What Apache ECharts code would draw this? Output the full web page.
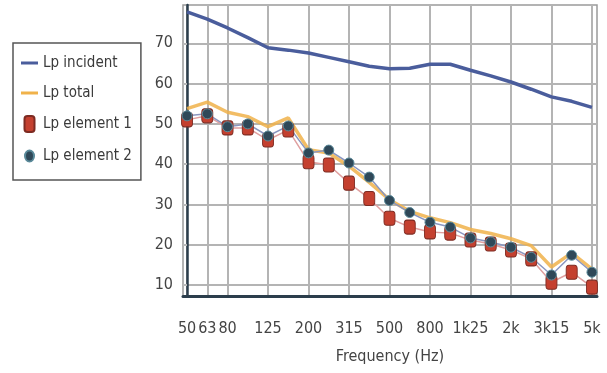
<!DOCTYPE html>
<html>
<head>
<meta charset="utf-8">
<script src="https://cdn.jsdelivr.net/npm/echarts@6/dist/echarts.min.js"></script>
<style>
  html, body { margin: 0; padding: 0; background: #fff; }
  #chart { width: 607px; height: 373px; }
</style>
</head>
<body>
<div id="chart"></div>
<script>
// 1/3 octave bands, 50 Hz .. 5 kHz
var freqLabels = ['50', '63', '80', '100', '125', '160', '200', '250', '315', '400', '500',
                  '630', '800', '1k', '1k25', '1k6', '2k', '2k5', '3k15', '4k', '5k'];
var shownBands = [0, 1, 2, 4, 6, 8, 10, 12, 14, 16, 18, 20];
var levelTicks = [10, 20, 30, 40, 50, 60, 70];

var lpIncident = [77.8, 76.0, 73.8, 71.4, 68.9, 68.3, 67.6, 66.5, 65.4, 64.3, 63.7,
                  63.8, 64.8, 64.8, 63.3, 61.9, 60.4, 58.6, 56.7, 55.6, 54.1];
var lpTotal    = [53.8, 55.4, 52.9, 51.8, 49.3, 51.5, 43.6, 42.8, 39.5, 35.5, 31.2,
                  28.3, 26.7, 25.5, 23.8, 22.8, 21.5, 19.8, 14.5, 18.0, 14.0];
var lpElement1 = [51.0, 52.0, 49.0, 49.0, 46.0, 48.5, 40.6, 39.8, 35.3, 31.5, 26.6,
                  24.4, 23.2, 22.9, 21.2, 20.2, 18.7, 16.5, 10.7, 13.2, 9.5];
var lpElement2 = [52.0, 52.5, 49.3, 50.0, 47.0, 49.5, 42.8, 43.5, 40.3, 36.8, 31.0,
                  28.0, 25.6, 24.4, 21.7, 20.7, 19.4, 16.9, 12.5, 17.4, 13.2];

var narrow = '"Liberation Sans Narrow", "DejaVu Sans Condensed", sans-serif';

function toPoints(arr) {
    return arr.map(function (v, i) { return [i, v]; });
}

// legend icons: leading moves keep the 17x16 box so shapes are not stretched
var lineIcon = 'path://M0,0M17,16M0,6.5h17v3h-17z';
var squareIcon = 'path://M0,0M17,16M6.5,0h4a3,3 0 0 1 3,3v10a3,3 0 0 1 -3,3h-4a3,3 0 0 1 -3,-3v-10a3,3 0 0 1 3,-3z';
var dotIcon = 'path://M0,0M17,16M8.5,2.5a4.5,5.5 0 1 1 0,11a4.5,5.5 0 1 1 0,-11z';

var myChart = echarts.init(document.getElementById('chart'));

var option = {
    animation: false,
    textStyle: { fontFamily: narrow },
    grid: {
        left: 183,
        right: 10,
        top: 5,
        bottom: 77,
        show: true,
        borderColor: '#9a9a9a',
        borderWidth: 1.5
    },
    legend: {
        orient: 'vertical',
        left: 13,
        top: 43,
        padding: [12, 9, 15, 7],
        itemWidth: 17,
        itemHeight: 16,
        itemGap: 14,
        borderColor: '#555',
        borderWidth: 1.5,
        textStyle: { color: '#3a3a3a', fontSize: 15, fontFamily: narrow },
        data: [
            { name: 'Lp incident', icon: lineIcon },
            { name: 'Lp total', icon: lineIcon },
            { name: 'Lp element 1', icon: squareIcon },
            { name: 'Lp element 2', icon: dotIcon }
        ]
    },
    xAxis: {
        type: 'value',
        min: -0.2,
        max: 20.25,
        name: 'Frequency (Hz)',
        nameLocation: 'middle',
        nameGap: 53,
        nameTextStyle: { color: '#444', fontSize: 16, fontFamily: narrow },
        axisLine: { lineStyle: { color: '#2c3e4c', width: 3 } },
        axisTick: { show: false, customValues: shownBands },
        axisLabel: {
            customValues: shownBands,
            margin: 25,
            color: '#444',
            fontSize: 16,
            fontFamily: narrow,
            formatter: function (v) { return freqLabels[Math.round(v)]; }
        },
        splitLine: { show: true, lineStyle: { color: '#b4b4b4', width: 2 } }
    },
    yAxis: {
        type: 'value',
        min: 7.3,
        max: 79.5,
        axisLine: { show: true, lineStyle: { color: '#2c3e4c', width: 2.5 } },
        axisTick: { show: true, length: 4, customValues: levelTicks, lineStyle: { color: '#bbb', width: 2 } },
        axisLabel: {
            customValues: levelTicks,
            margin: 10,
            color: '#444',
            fontSize: 16,
            fontFamily: narrow
        },
        splitLine: { show: true, lineStyle: { color: '#b4b4b4', width: 2 } }
    },
    series: [
        {
            name: 'Lp incident',
            type: 'line',
            symbol: 'none',
            clip: false,
            color: '#4a5d9c',
            lineStyle: { width: 3.5 },
            data: toPoints(lpIncident)
        },
        {
            name: 'Lp total',
            type: 'line',
            symbol: 'none',
            color: '#f0b24a',
            lineStyle: { width: 3.5, opacity: 0.85 },
            data: toPoints(lpTotal)
        },
        {
            name: 'Lp element 1',
            type: 'line',
            symbol: 'roundRect',
            symbolSize: [11, 14],
            color: '#c4402f',
            itemStyle: { borderColor: '#7d2b22', borderWidth: 1 },
            lineStyle: { width: 1.5, color: '#e0a0a0' },
            data: toPoints(lpElement1)
        },
        {
            name: 'Lp element 2',
            type: 'line',
            symbol: 'circle',
            symbolSize: 10,
            color: '#2f4858',
            itemStyle: { borderColor: '#5a8a9a', borderWidth: 1 },
            lineStyle: { width: 1.5, color: '#8a96c0' },
            data: toPoints(lpElement2)
        }
    ]
};

myChart.setOption(option);
</script>
</body>
</html>
